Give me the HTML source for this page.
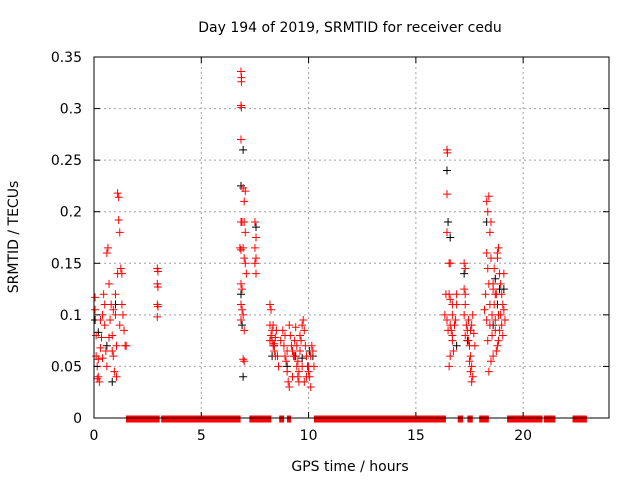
<!DOCTYPE html>
<html><head><meta charset="utf-8"><style>
body{margin:0;background:#fff}
svg{display:block;font-family:"DejaVu Sans","Liberation Sans",sans-serif}
</style></head><body>
<svg id="chart" width="640" height="480">
<rect width="640" height="480" fill="#fff"/>
<text x="350" y="32" font-size="14" text-anchor="middle">Day 194 of 2019, SRMTID for receiver cedu</text>
<text x="350" y="471" font-size="14" text-anchor="middle">GPS time / hours</text>
<text transform="translate(18,237) rotate(-90)" font-size="14" text-anchor="middle">SRMTID / TECUs</text>
<g id="grid"></g><g id="zeros"></g><g id="pts"></g>
<rect x="94" y="57" width="515" height="361" fill="none" stroke="#000" stroke-width="1"/>
<g id="ticks"></g>
</svg>
<script>
const xTicks=[0,5,10,15,20];
const yTicks=[0,0.05,0.1,0.15,0.2,0.25,0.3,0.35];
const yTickLabels=["0","0.05","0.1","0.15","0.2","0.25","0.3","0.35"];
const zeroSegments=[[1.49,3.06],[3.13,6.83],[7.24,8.26],[8.63,8.86],[8.99,9.18],[10.25,16.4],[16.95,17.2],[17.4,17.65],[17.95,18.4],[19.25,20.9],[20.97,21.5],[22.3,22.97]];
const redPoints=[[0.05,0.117],[0.05,0.105],[0.1,0.08],[0.1,0.06],[0.15,0.05],[0.2,0.04],[0.25,0.035],[0.3,0.068],[0.3,0.095],[0.35,0.078],[0.4,0.058],[0.45,0.12],[0.5,0.11],[0.5,0.09],[0.55,0.065],[0.6,0.05],[0.6,0.16],[0.65,0.165],[0.7,0.13],[0.75,0.095],[0.8,0.11],[0.85,0.08],[0.85,0.065],[0.9,0.06],[0.95,0.045],[1.0,0.1],[1.0,0.12],[1.05,0.07],[1.05,0.04],[1.1,0.14],[1.1,0.218],[1.15,0.214],[1.15,0.192],[1.2,0.18],[1.2,0.09],[1.25,0.145],[1.3,0.11],[1.3,0.14],[1.35,0.1],[1.4,0.085],[1.45,0.07],[1.5,0.07],[0.2,0.057],[0.15,0.038],[0.4,0.1],[0.7,0.078],[0.9,0.105],
[2.95,0.145],[2.98,0.142],[2.95,0.13],[2.98,0.127],[2.95,0.11],[2.98,0.108],[2.95,0.098],
[6.85,0.336],[6.87,0.33],[6.87,0.326],[6.85,0.303],[6.87,0.301],[6.85,0.27],[6.95,0.223],[7.05,0.22],[7.0,0.21],[7.0,0.19],[6.85,0.19],[6.9,0.19],[7.05,0.18],[6.8,0.165],[6.85,0.163],[6.95,0.165],[7.0,0.155],[7.05,0.15],[7.1,0.14],[6.85,0.13],[6.9,0.125],[6.85,0.11],[6.9,0.105],[6.95,0.1],[6.85,0.095],[7.0,0.085],[6.95,0.057],[7.0,0.055],[7.5,0.19],[7.55,0.175],[7.5,0.165],[7.55,0.155],[7.5,0.15],[7.55,0.14],
[8.2,0.11],[8.25,0.105],[8.2,0.09],[8.3,0.085],[8.25,0.08],[8.3,0.075],[8.35,0.07],[8.4,0.072],[8.4,0.065],[8.45,0.078],[8.2,0.075],[8.35,0.09],[8.5,0.085],[8.55,0.06],[8.6,0.05],[8.7,0.075],[8.8,0.085],[8.85,0.07],[8.9,0.06],[8.95,0.055],[9.0,0.065],[9.0,0.045],[9.05,0.035],[9.1,0.03],[9.1,0.09],[9.15,0.08],[9.2,0.07],[9.25,0.065],[9.3,0.06],[9.35,0.075],[9.4,0.088],[9.45,0.05],[9.5,0.055],[9.5,0.04],[9.55,0.035],[9.6,0.065],[9.65,0.075],[9.7,0.09],[9.75,0.095],[9.8,0.085],[9.85,0.07],[9.9,0.06],[9.95,0.05],[10.0,0.045],[10.05,0.04],[10.1,0.06],[10.15,0.07],[10.2,0.065],[10.25,0.05],[9.55,0.045],[9.7,0.05],[9.8,0.035],[10.0,0.05],[8.9,0.08],[9.25,0.04],[9.6,0.08],[8.45,0.06],[10.1,0.03],[9.35,0.06],[9.45,0.07],[9.9,0.04],
[16.45,0.26],[16.47,0.257],[16.45,0.217],[16.45,0.18],[16.55,0.15],[16.6,0.15],[16.55,0.12],[16.6,0.115],[16.7,0.11],[16.7,0.1],[16.6,0.09],[16.65,0.085],[16.7,0.08],[16.7,0.075],[16.75,0.065],[16.6,0.06],[16.55,0.05],[16.8,0.09],[16.85,0.095],[16.35,0.1],[16.4,0.12],[16.45,0.095],[16.5,0.085],[16.9,0.12],[16.9,0.11],
[17.25,0.15],[17.3,0.145],[17.25,0.125],[17.3,0.12],[17.3,0.11],[17.25,0.1],[17.35,0.09],[17.4,0.085],[17.3,0.08],[17.45,0.075],[17.5,0.07],[17.55,0.06],[17.5,0.055],[17.6,0.05],[17.55,0.045],[17.6,0.035],[17.65,0.04],[17.6,0.09],[17.65,0.1],[17.55,0.085],[17.7,0.082],[17.75,0.07],[17.45,0.095],
[18.3,0.21],[18.4,0.215],[18.35,0.2],[18.5,0.19],[18.45,0.18],[18.3,0.16],[18.5,0.155],[18.35,0.145],[18.4,0.13],[18.6,0.13],[18.7,0.12],[18.65,0.11],[18.55,0.1],[18.7,0.095],[18.8,0.16],[18.85,0.165],[18.8,0.155],[18.9,0.14],[18.95,0.13],[19.0,0.12],[19.05,0.11],[19.1,0.105],[19.0,0.09],[18.9,0.085],[18.85,0.075],[18.8,0.07],[18.75,0.065],[18.6,0.06],[18.5,0.055],[18.4,0.045],[18.35,0.075],[18.3,0.095],[18.25,0.12],[18.2,0.105],[18.45,0.09],[18.55,0.08],[18.7,0.085],[18.95,0.1],[19.05,0.08],[19.15,0.095],[19.1,0.14],[18.6,0.125],[18.65,0.145],[18.75,0.12],[18.85,0.1],[18.45,0.11]];
const blackPoints=[[0.05,0.095],[0.2,0.083],[0.6,0.07],[0.85,0.035],[1.0,0.11],[6.95,0.26],[6.85,0.225],[6.9,0.09],[6.85,0.12],[6.95,0.04],[7.55,0.185],[8.3,0.06],[8.4,0.07],[9.0,0.05],[9.4,0.06],[9.7,0.058],[10.2,0.06],[10.05,0.065],[16.45,0.24],[16.5,0.19],[16.6,0.175],[17.25,0.14],[18.3,0.19],[18.7,0.135],[18.9,0.125],[19.1,0.125],[18.6,0.09],[16.9,0.07],[17.4,0.075],[18.8,0.11]];
const NS='http://www.w3.org/2000/svg';
const X0=94,X1=609,Y0=418,Y1=57,XMAX=24,YMAX=0.35;
function xs(v){return X0+(X1-X0)*v/XMAX;}
function ys(v){return Y0-(Y0-Y1)*v/YMAX;}
function mk(tag,attrs,parent){const e=document.createElementNS(NS,tag);for(const k in attrs)e.setAttribute(k,attrs[k]);parent.appendChild(e);return e;}
const grid=document.getElementById('grid'),ticks=document.getElementById('ticks'),zg=document.getElementById('zeros'),pg=document.getElementById('pts');
xTicks.forEach((t,i)=>{
 const x=xs(t);
 if(t>0){const g=mk('line',{x1:x,x2:x,y1:Y1,y2:Y0,stroke:'#a0a0a0','stroke-dasharray':'2,3'},grid);
 
 }
 mk('line',{x1:x,x2:x,y1:Y0,y2:Y0-6,stroke:'#000'},ticks);
 mk('line',{x1:x,x2:x,y1:Y1,y2:Y1+6,stroke:'#000'},ticks);
 const l=mk('text',{x:x,y:Y0+22,'font-size':14,'text-anchor':'middle'},ticks);
 l.textContent=String(t);
 
 
});
yTicks.forEach((t,i)=>{
 const y=ys(t);
 if(t>0&&t<YMAX){const g=mk('line',{x1:X0,x2:X1,y1:y,y2:y,stroke:'#a0a0a0','stroke-dasharray':'2,3'},grid);
 
 }
 mk('line',{x1:X0,x2:X0+6,y1:y,y2:y,stroke:'#000'},ticks);
 mk('line',{x1:X1,x2:X1-6,y1:y,y2:y,stroke:'#000'},ticks);
 const l=mk('text',{x:X0-12,y:y+5,'font-size':14,'text-anchor':'end'},ticks);
 l.textContent=yTickLabels[i];
 
 
});
zeroSegments.forEach(s=>{
 const r=mk('rect',{x:xs(s[0]),y:ys(0)-2.5,width:xs(s[1])-xs(s[0]),height:7,fill:'#ff0000'},zg);
 
 
});
function plus(p,col){
 const x=xs(p[0]),y=ys(p[1]);
 const e=mk('path',{d:`M${x-4},${y}H${x+4}M${x},${y-4}V${y+4}`,stroke:col,'stroke-width':1,fill:'none'},pg);
 
 
}
blackPoints.forEach(p=>plus(p,'#000'));
redPoints.forEach(p=>plus(p,'#ff0000'));
</script>
</body></html>
